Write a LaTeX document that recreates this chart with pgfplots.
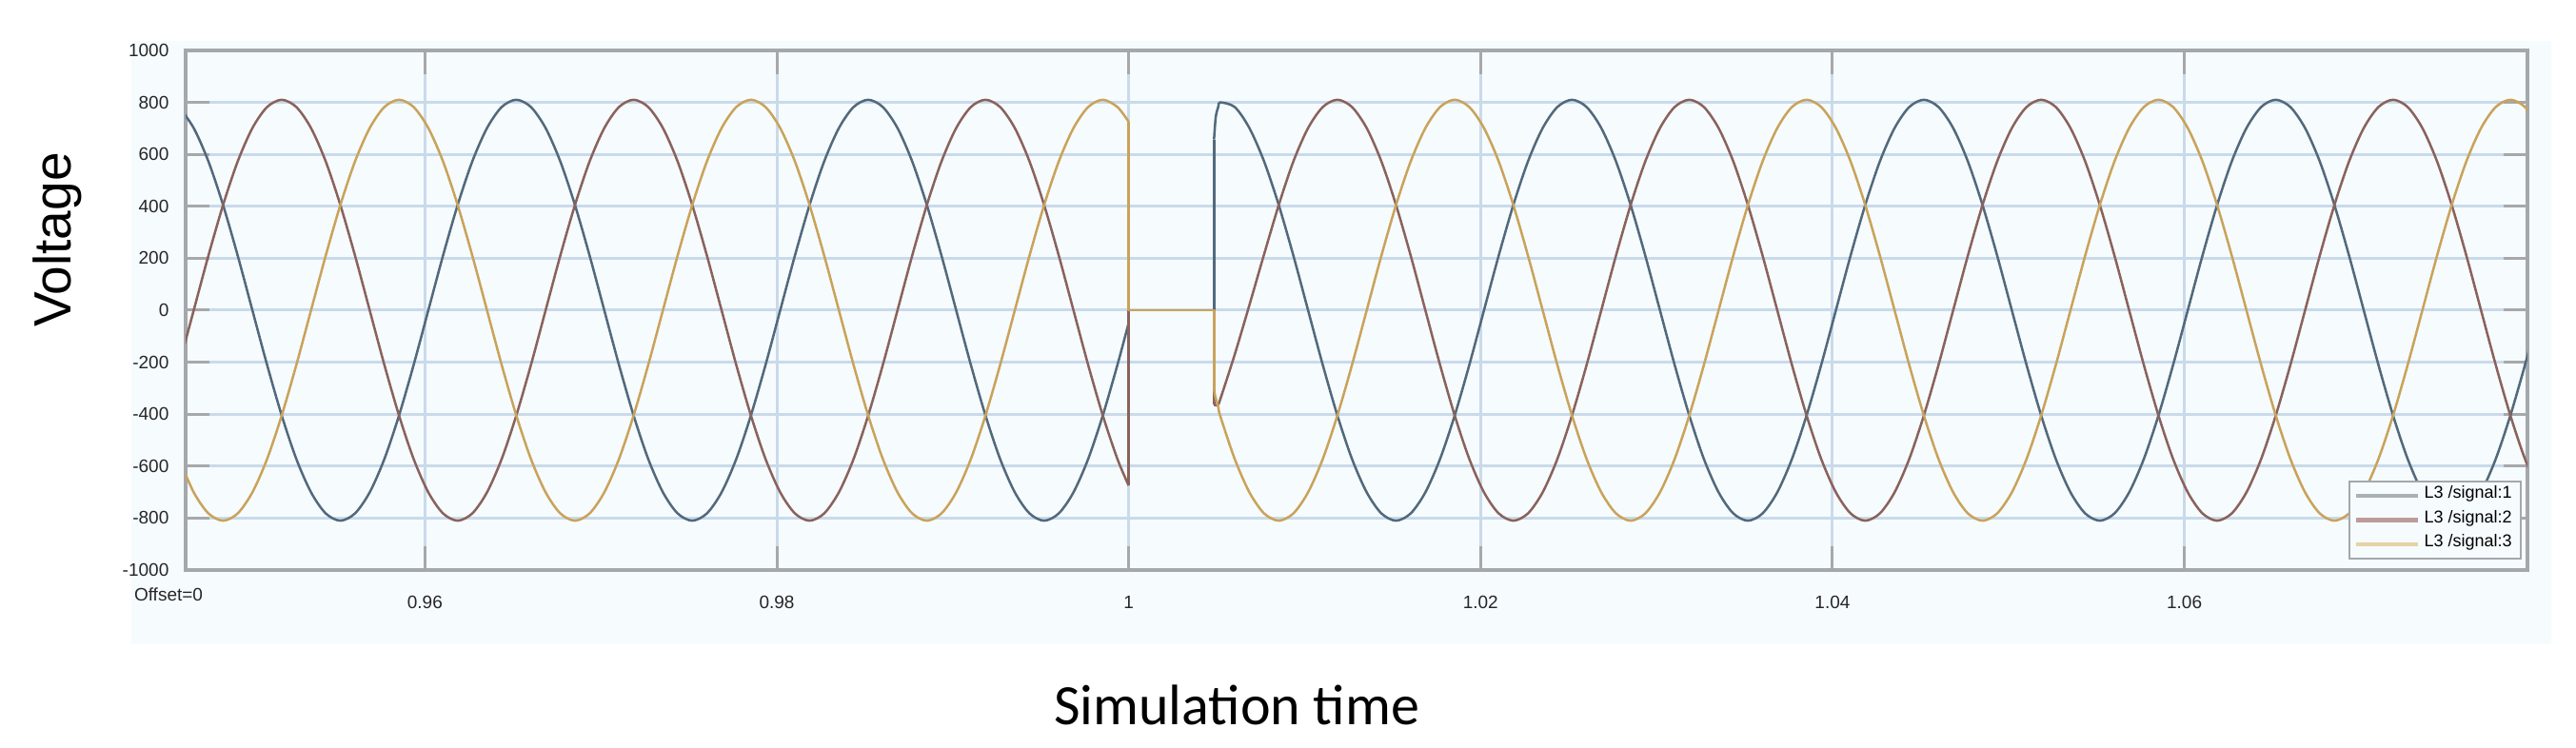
\documentclass[border=0pt]{standalone}
\usepackage{fontspec}
\setmainfont{Liberation Sans}
\newfontfamily\carlito{Carlito}
\usepackage{pgfplots}
\usepackage{pgfplotstable}
\pgfplotsset{compat=1.18}

\definecolor{sigA}{HTML}{52697C}
\definecolor{sigB}{HTML}{8A625C}
\definecolor{sigC}{HTML}{C9A35A}
\definecolor{legA}{HTML}{A9B1B3}
\definecolor{legB}{HTML}{BC9C9A}
\definecolor{legC}{HTML}{E5D3A2}
\definecolor{panel}{HTML}{F6FBFE}
\definecolor{gridblue}{HTML}{C9DAEA}
\definecolor{tickgray}{HTML}{A6A8AA}
\definecolor{framegray}{HTML}{A4A8AC}

% before the fault (t up to 1 s)
\pgfplotstableread{
t s1 s2 s3
0.946028 782 -210 -573
0.946861 701 0 -701
0.947694 573 210 -782
0.948528 405 405 -810
0.949361 210 573 -782
0.950194 0 701 -701
0.951028 -210 782 -573
0.951861 -405 810 -405
0.952694 -573 782 -210
0.953528 -701 701 0
0.954361 -782 573 210
0.955194 -810 405 405
0.956028 -782 210 573
0.956861 -701 0 701
0.957694 -573 -210 782
0.958528 -405 -405 810
0.959361 -210 -573 782
0.960194 0 -701 701
0.961028 210 -782 573
0.961861 405 -810 405
0.962694 573 -782 210
0.963528 701 -701 0
0.964361 782 -573 -210
0.965194 810 -405 -405
0.966028 782 -210 -573
0.966861 701 0 -701
0.967694 573 210 -782
0.968528 405 405 -810
0.969361 210 573 -782
0.970194 0 701 -701
0.971028 -210 782 -573
0.971861 -405 810 -405
0.972694 -573 782 -210
0.973528 -701 701 0
0.974361 -782 573 210
0.975194 -810 405 405
0.976028 -782 210 573
0.976861 -701 0 701
0.977694 -573 -210 782
0.978528 -405 -405 810
0.979361 -210 -573 782
0.980194 0 -701 701
0.981028 210 -782 573
0.981861 405 -810 405
0.982694 573 -782 210
0.983528 701 -701 0
0.984361 782 -573 -210
0.985194 810 -405 -405
0.986028 782 -210 -573
0.986861 701 0 -701
0.987694 573 210 -782
0.988528 405 405 -810
0.989361 210 573 -782
0.990194 0 701 -701
0.991028 -210 782 -573
0.991861 -405 810 -405
0.992694 -573 782 -210
0.993528 -701 701 0
0.994361 -782 573 210
0.995194 -810 405 405
0.996028 -782 210 573
0.996861 -701 0 701
0.997694 -573 -210 782
0.998528 -405 -405 810
0.999361 -210 -573 782
1.000000 -49 -675 725
}\before

% zeroed interval between 1 s and the restart
\pgfplotstableread{
t s1 s2 s3
1.000000 -49 -675 725
1.000000 0 0 0
1.004850 0 0 0
1.004850 657 -363 -308
}\gap

% after the restart
\pgfplotstableread{
t s1 s2 s3
1.004850 657 -363 -308
1.004950 745 -366 -340
1.005100 785 -360 -375
1.005194 800 -345 -405
1.006028 782 -170 -573
1.006861 701 20 -701
1.007694 573 215 -782
1.008528 405 405 -810
1.009361 210 573 -782
1.010194 0 701 -701
1.011028 -210 782 -573
1.011861 -405 810 -405
1.012694 -573 782 -210
1.013528 -701 701 0
1.014361 -782 573 210
1.015194 -810 405 405
1.016028 -782 210 573
1.016861 -701 0 701
1.017694 -573 -210 782
1.018528 -405 -405 810
1.019361 -210 -573 782
1.020194 0 -701 701
1.021028 210 -782 573
1.021861 405 -810 405
1.022694 573 -782 210
1.023528 701 -701 0
1.024361 782 -573 -210
1.025194 810 -405 -405
1.026028 782 -210 -573
1.026861 701 0 -701
1.027694 573 210 -782
1.028528 405 405 -810
1.029361 210 573 -782
1.030194 0 701 -701
1.031028 -210 782 -573
1.031861 -405 810 -405
1.032694 -573 782 -210
1.033528 -701 701 0
1.034361 -782 573 210
1.035194 -810 405 405
1.036028 -782 210 573
1.036861 -701 0 701
1.037694 -573 -210 782
1.038528 -405 -405 810
1.039361 -210 -573 782
1.040194 0 -701 701
1.041028 210 -782 573
1.041861 405 -810 405
1.042694 573 -782 210
1.043528 701 -701 0
1.044361 782 -573 -210
1.045194 810 -405 -405
1.046028 782 -210 -573
1.046861 701 0 -701
1.047694 573 210 -782
1.048528 405 405 -810
1.049361 210 573 -782
1.050194 0 701 -701
1.051028 -210 782 -573
1.051861 -405 810 -405
1.052694 -573 782 -210
1.053528 -701 701 0
1.054361 -782 573 210
1.055194 -810 405 405
1.056028 -782 210 573
1.056861 -701 0 701
1.057694 -573 -210 782
1.058528 -405 -405 810
1.059361 -210 -573 782
1.060194 0 -701 701
1.061028 210 -782 573
1.061861 405 -810 405
1.062694 573 -782 210
1.063528 701 -701 0
1.064361 782 -573 -210
1.065194 810 -405 -405
1.066028 782 -210 -573
1.066861 701 0 -701
1.067694 573 210 -782
1.068528 405 405 -810
1.069361 210 573 -782
1.070194 0 701 -701
1.071028 -210 782 -573
1.071861 -405 810 -405
1.072694 -573 782 -210
1.073528 -701 701 0
1.074361 -782 573 210
1.075194 -810 405 405
1.076028 -782 210 573
1.076861 -701 0 701
1.077694 -573 -210 782
1.078528 -405 -405 810
1.079361 -210 -573 782
1.080194 0 -701 701
}\after

\begin{document}
\begin{tikzpicture}
\path[use as bounding box, fill=white] (0,0) rectangle (541.2pt,157.2pt);
\fill[panel] (27.6pt,21.8pt) rectangle (536pt,148.6pt);
\begin{axis}[
    at={(39pt,37.4pt)}, anchor=south west,
    scale only axis, width=492pt, height=109.2pt,
    xmin=0.9464, xmax=1.0795,
    ymin=-1000, ymax=1000,
    xtick={0.96,0.98,1,1.02,1.04,1.06},
    xticklabels={0.96,0.98,1,1.02,1.04,1.06},
    ytick={-1000,-800,...,1000},
    grid=major,
    major grid style={gridblue, line width=0.6pt},
    tick align=inside, tick pos=both,
    major tick length=5pt,
    major tick style={tickgray, line width=0.6pt},
    axis line style={framegray, line width=0.8pt},
    axis background/.style={fill=panel},
    /pgf/number format/assume math mode=true,
    /pgf/number format/1000 sep={},
    ticklabel style={font=\fontsize{3.8}{4}\selectfont, text=black!85},
    xticklabel style={yshift=-2pt},
    xlabel={Simulation time},
    xlabel style={font=\carlito\fontsize{12}{14}\selectfont,
        at={(axis description cs:0.4488,-0.26)}, anchor=center},
    ylabel={Voltage},
    ylabel style={font=\fontsize{11}{13}\selectfont,
        at={(axis description cs:-0.0549,0.6355)}, anchor=center},
    legend style={at={(axis description cs:0.99756,0.0201)}, anchor=south east,
        draw=framegray, line width=0.5pt, fill=panel,
        font=\fontsize{3.6}{4.2}\selectfont,
        inner xsep=1pt, inner ysep=0.6pt, row sep=0.4pt,
        nodes={inner xsep=0.8pt, inner ysep=0.3pt},
        cells={anchor=west}},
    legend image code/.code={\draw[#1] (0pt,0pt) -- (13pt,0pt);},
    every axis plot/.append style={line width=0.5pt, line join=round},
]
\addplot[sigA, smooth, tension=0.5, forget plot] table[x=t, y=s1] {\before};
\addplot[sigB, smooth, tension=0.5, forget plot] table[x=t, y=s2] {\before};
\addplot[sigC, smooth, tension=0.5, forget plot] table[x=t, y=s3] {\before};
\addplot[sigA, forget plot] table[x=t, y=s1] {\gap};
\addplot[sigB, forget plot] table[x=t, y=s2] {\gap};
\addplot[sigC, forget plot] table[x=t, y=s3] {\gap};
\addplot[sigA, smooth, tension=0.5, forget plot] table[x=t, y=s1] {\after};
\addplot[sigB, smooth, tension=0.5, forget plot] table[x=t, y=s2] {\after};
\addplot[sigC, smooth, tension=0.5, forget plot] table[x=t, y=s3] {\after};
\addlegendimage{legA, line width=0.9pt}
\addlegendentry{L3 /signal:1}
\addlegendimage{legB, line width=0.9pt}
\addlegendentry{L3 /signal:2}
\addlegendimage{legC, line width=0.9pt}
\addlegendentry{L3 /signal:3}
\end{axis}
\node[anchor=west, font=\fontsize{3.8}{4}\selectfont, text=black!85, inner sep=0pt]
    at (28pt,32.2pt) {Offset=0};
\end{tikzpicture}
\end{document}
